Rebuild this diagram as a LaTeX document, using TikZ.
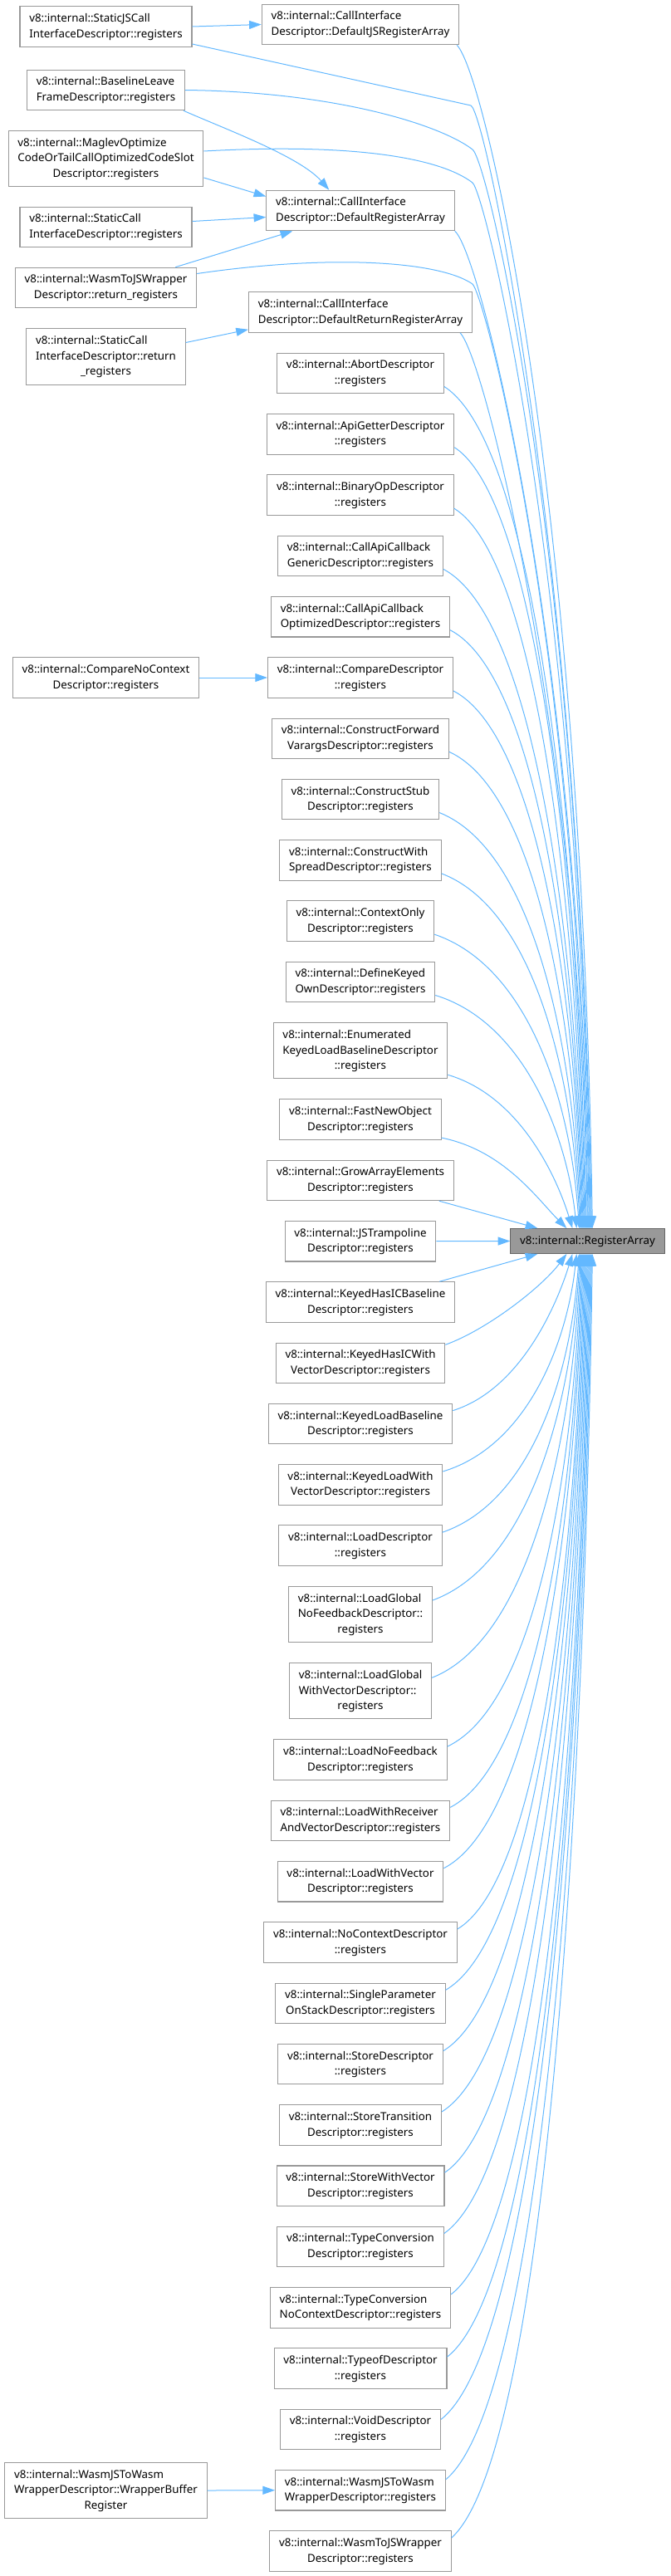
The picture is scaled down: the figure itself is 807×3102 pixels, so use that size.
\documentclass[tikz,border=0pt]{standalone}
\usepackage{fontspec}
\setmainfont{Noto Sans}
\usetikzlibrary{arrows.meta,calc}
\definecolor{EdgeBlue} {HTML}{63B8FF}
\definecolor{BoxGray}  {HTML}{999999}
\definecolor{RootGray} {HTML}{999999}
\definecolor{RootEdge} {HTML}{666666}
\newcommand{\fnlabel}[2]{\begin{tabular}{@{}l@{}}#1\\\multicolumn{1}{@{}c@{}}{#2}\end{tabular}}
\tikzset{
  fn/.style={rectangle,draw=BoxGray,fill=white,line width=0.8pt,
             font=\fontsize{10}{14}\selectfont,inner xsep=8.5pt,inner ysep=4.2pt},
  rootfn/.style={fn,fill=RootGray,draw=RootEdge,text height=9.8pt,text depth=4.2pt},
  arr/.style={-{Triangle[length=11pt,width=7.5pt]},line width=0.75pt,color=EdgeBlue},
}
\begin{document}
\begin{tikzpicture}[x=0.75pt,y=-0.75pt]
  \useasboundingbox (0,0) rectangle (807,3102);

  \node[rootfn] (RA) at (707.5,1494.5){v8::internal::RegisterArray};

  \node[fn] (SJC) at (127.5,32){\fnlabel{v8::internal::StaticJSCall}{InterfaceDescriptor::registers}};
  \node[fn] (DJS) at (434,29.5){\fnlabel{v8::internal::CallInterface}{Descriptor::DefaultJSRegisterArray}};
  \node[fn] (BLF) at (127.5,108.5){\fnlabel{v8::internal::BaselineLeave}{FrameDescriptor::registers}};
  \node[fn] (MOC) at (127.5,191){\fnlabel{v8::internal::MaglevOptimize\\CodeOrTailCallOptimizedCodeSlot}{Descriptor::registers}};
  \node[fn] (DRA) at (434,253.5){\fnlabel{v8::internal::CallInterface}{Descriptor::DefaultRegisterArray}};
  \node[fn] (SCI) at (127.5,273.5){\fnlabel{v8::internal::StaticCall}{InterfaceDescriptor::registers}};
  \node[fn] (WJR) at (127.5,346.5){\fnlabel{v8::internal::WasmToJSWrapper}{Descriptor::return\_registers}};
  \node[fn] (DRR) at (434,376){\fnlabel{v8::internal::CallInterface}{Descriptor::DefaultReturnRegisterArray}};
  \node[fn] (SCR) at (127.5,429.5){\fnlabel{v8::internal::StaticCall\\InterfaceDescriptor::return}{\_registers}};
  \node[fn] (CNC) at (127.5,816){\fnlabel{v8::internal::CompareNoContext}{Descriptor::registers}};
  \node[fn] (WBR) at (127.5,2999){\fnlabel{v8::internal::WasmJSToWasm\\WrapperDescriptor::WrapperBuffer}{Register}};

  \node[fn] (ABT) at (434,449.5){\fnlabel{v8::internal::AbortDescriptor}{::registers}};
  \node[fn] (AGD) at (434,522.8){\fnlabel{v8::internal::ApiGetterDescriptor}{::registers}};
  \node[fn] (BOD) at (434,596.1){\fnlabel{v8::internal::BinaryOpDescriptor}{::registers}};
  \node[fn] (CAG) at (434,669.4){\fnlabel{v8::internal::CallApiCallback}{GenericDescriptor::registers}};
  \node[fn] (CAO) at (434,742.7){\fnlabel{v8::internal::CallApiCallback}{OptimizedDescriptor::registers}};
  \node[fn] (CMP) at (434,816.0){\fnlabel{v8::internal::CompareDescriptor}{::registers}};
  \node[fn] (CFV) at (434,889.3){\fnlabel{v8::internal::ConstructForward}{VarargsDescriptor::registers}};
  \node[fn] (CSD) at (434,962.6){\fnlabel{v8::internal::ConstructStub}{Descriptor::registers}};
  \node[fn] (CWS) at (434,1035.9){\fnlabel{v8::internal::ConstructWith}{SpreadDescriptor::registers}};
  \node[fn] (COD) at (434,1109.2){\fnlabel{v8::internal::ContextOnly}{Descriptor::registers}};
  \node[fn] (DKO) at (434,1182.5){\fnlabel{v8::internal::DefineKeyed}{OwnDescriptor::registers}};
  \node[fn] (EKL) at (434,1265.3){\fnlabel{v8::internal::Enumerated\\KeyedLoadBaselineDescriptor}{::registers}};
  \node[fn] (FNO) at (434,1348.1){\fnlabel{v8::internal::FastNewObject}{Descriptor::registers}};
  \node[fn] (GAE) at (434,1421.4){\fnlabel{v8::internal::GrowArrayElements}{Descriptor::registers}};
  \node[fn] (JST) at (434,1494.7){\fnlabel{v8::internal::JSTrampoline}{Descriptor::registers}};
  \node[fn] (KHB) at (434,1568.0){\fnlabel{v8::internal::KeyedHasICBaseline}{Descriptor::registers}};
  \node[fn] (KHW) at (434,1641.3){\fnlabel{v8::internal::KeyedHasICWith}{VectorDescriptor::registers}};
  \node[fn] (KLB) at (434,1714.6){\fnlabel{v8::internal::KeyedLoadBaseline}{Descriptor::registers}};
  \node[fn] (KLW) at (434,1787.9){\fnlabel{v8::internal::KeyedLoadWith}{VectorDescriptor::registers}};
  \node[fn] (LDS) at (434,1861.2){\fnlabel{v8::internal::LoadDescriptor}{::registers}};
  \node[fn] (LGN) at (434,1944.0){\fnlabel{v8::internal::LoadGlobal\\NoFeedbackDescriptor::}{registers}};
  \node[fn] (LGW) at (434,2036.3){\fnlabel{v8::internal::LoadGlobal\\WithVectorDescriptor::}{registers}};
  \node[fn] (LNF) at (434,2119.1){\fnlabel{v8::internal::LoadNoFeedback}{Descriptor::registers}};
  \node[fn] (LWR) at (434,2192.4){\fnlabel{v8::internal::LoadWithReceiver}{AndVectorDescriptor::registers}};
  \node[fn] (LWV) at (434,2265.7){\fnlabel{v8::internal::LoadWithVector}{Descriptor::registers}};
  \node[fn] (NCD) at (434,2339.0){\fnlabel{v8::internal::NoContextDescriptor}{::registers}};
  \node[fn] (SPS) at (434,2412.3){\fnlabel{v8::internal::SingleParameter}{OnStackDescriptor::registers}};
  \node[fn] (STD) at (434,2485.6){\fnlabel{v8::internal::StoreDescriptor}{::registers}};
  \node[fn] (STT) at (434,2558.9){\fnlabel{v8::internal::StoreTransition}{Descriptor::registers}};
  \node[fn] (SWV) at (434,2632.2){\fnlabel{v8::internal::StoreWithVector}{Descriptor::registers}};
  \node[fn] (TCD) at (434,2705.5){\fnlabel{v8::internal::TypeConversion}{Descriptor::registers}};
  \node[fn] (TCN) at (434,2778.8){\fnlabel{v8::internal::TypeConversion}{NoContextDescriptor::registers}};
  \node[fn] (TOD) at (434,2852.1){\fnlabel{v8::internal::TypeofDescriptor}{::registers}};
  \node[fn] (VOD) at (434,2925.4){\fnlabel{v8::internal::VoidDescriptor}{::registers}};
  \node[fn] (WJW) at (434,2998.7){\fnlabel{v8::internal::WasmJSToWasm}{WrapperDescriptor::registers}};
  \node[fn] (WTJ) at (434,3072.0){\fnlabel{v8::internal::WasmToJSWrapper}{Descriptor::registers}};

  \draw[arr] (SJC.east) -- (DJS.west);
  \draw[arr] (SJC.east) ++(0,21) -- (567,127) .. controls +(18,8) and +(-13,-800) .. ($(RA.north west)+(98,0)$);
  \draw[arr] ($(DJS.south east)+(-3,0)$) .. controls +(35,36) and +(-13,-880) .. ($(RA.north west)+(99,0)$);
  \draw[arr] (BLF.east) .. controls +(180,2) and +(-39,-30) .. (569,180) .. controls +(20,16) and +(-12,-800) .. ($(RA.north west)+(97,0)$);
  \draw[arr] ($(BLF.south east)+(-2,0)$) .. controls +(50,22) and +(-35,-40) .. ($(DRA.north west)+(76,0)$);
  \draw[arr] (MOC.east) ++(0,-9) .. controls +(180,-10) and +(-39,-30) .. (569,220) .. controls +(16,14) and +(-12,-780) .. ($(RA.north west)+(96,0)$);
  \draw[arr] ($(MOC.east)+(0,23)$) -- ($(DRA.west)+(0,-17)$);
  \draw[arr] ($(SCI.east)+(0,-7)$) -- ($(DRA.west)+(0,8)$);
  \draw[arr] ($(WJR.north east)+(-26,0)$) -- ($(DRA.south west)+(32,0)$);
  \draw[arr] (WJR.east) ++(0,-17) .. controls +(165,-24) and +(-39,-27) .. (569,342) .. controls +(15,14) and +(-12,-700) .. ($(RA.north west)+(94,0)$);
  \draw[arr] (DRA.south east) .. controls +(32,27) and +(-9,-680) .. ($(RA.north west)+(95,0)$);
  \draw[arr] ($(SCR.east)+(0,-17)$) -- ($(DRR.south west)+(0,-4)$);
  \draw[arr] ($(DRR.south east)+(-15,0)$) .. controls +(30,30) and +(-7,-580) .. ($(RA.north west)+(93,0)$);
  \draw[arr] (CNC.east) -- (CMP.west);
  \draw[arr] (WBR.east) -- (WJW.west);

  \draw[arr] (ABT.east) ++(0,16) .. controls +(110,70) and +(-10,-450) .. ($(RA.north west)+(92,0)$);
  \draw[arr] (AGD.east) ++(0,16) .. controls +(100,65) and +(-10,-420) .. ($(RA.north west)+(91,0)$);
  \draw[arr] (BOD.east) ++(0,16) .. controls +(100,62) and +(-10,-390) .. ($(RA.north west)+(90,0)$);
  \draw[arr] (CAG.east) ++(0,16) .. controls +(110,58) and +(-10,-355) .. ($(RA.north west)+(89,0)$);
  \draw[arr] (CAO.east) ++(0,16) .. controls +(105,55) and +(-10,-320) .. ($(RA.north west)+(88,0)$);
  \draw[arr] (CMP.east) ++(0,16) .. controls +(100,52) and +(-9,-290) .. ($(RA.north west)+(87,0)$);
  \draw[arr] (CFV.east) ++(0,16) .. controls +(104,48) and +(-9,-258) .. ($(RA.north west)+(86,0)$);
  \draw[arr] (CSD.east) ++(0,16) .. controls +(112,45) and +(-9,-225) .. ($(RA.north west)+(85,0)$);
  \draw[arr] (CWS.east) ++(0,16) .. controls +(110,42) and +(-9,-190) .. ($(RA.north west)+(84,0)$);
  \draw[arr] (COD.east) ++(0,16) .. controls +(112,38) and +(-10,-155) .. ($(RA.north west)+(83,0)$);
  \draw[arr] (DKO.east) ++(0,16) .. controls +(105,32) and +(-12,-115) .. ($(RA.north west)+(80,0)$);
  \draw[arr] (EKL.east) ++(0,29) .. controls +(85,25) and +(-20,-65) .. ($(RA.north west)+(75,0)$);
  \draw[arr] (FNO.east) ++(0,22) .. controls +(75,15) and +(-35,-35) .. ($(RA.north west)+(68,0)$);
  \draw[arr] ($(GAE.south east)+(-18,0)$) -- ($(RA.north west)+(33,0)$);
  \draw[arr] (JST.east) -- (RA.west);
  \draw[arr] ($(KHB.north east)+(-19,0)$) -- ($(RA.south west)+(33,0)$);
  \draw[arr] (KHW.east) ++(0,-22) .. controls +(50,-18) and +(-30,40) .. ($(RA.south west)+(68,0)$);
  \draw[arr] (KLB.east) ++(0,-16) .. controls +(80,-25) and +(-20,65) .. ($(RA.south west)+(75,0)$);
  \draw[arr] (KLW.east) ++(0,-16) .. controls +(100,-30) and +(-12,110) .. ($(RA.south west)+(80,0)$);
  \draw[arr] (LDS.east) ++(0,-16) .. controls +(105,-36) and +(-10,150) .. ($(RA.south west)+(83,0)$);
  \draw[arr] (LGN.east) ++(0,-17) .. controls +(115,-42) and +(-10,185) .. ($(RA.south west)+(84,0)$);
  \draw[arr] (LGW.east) ++(0,-16) .. controls +(117,-46) and +(-10,228) .. ($(RA.south west)+(85,0)$);
  \draw[arr] (LNF.east) ++(0,-16) .. controls +(106,-50) and +(-10,265) .. ($(RA.south west)+(86,0)$);
  \draw[arr] (LWR.east) ++(0,-16) .. controls +(104,-54) and +(-10,300) .. ($(RA.south west)+(87,0)$);
  \draw[arr] (LWV.east) ++(0,-16) .. controls +(110,-57) and +(-10,330) .. ($(RA.south west)+(88,0)$);
  \draw[arr] (NCD.east) ++(0,-16) .. controls +(100,-60) and +(-10,365) .. ($(RA.south west)+(89,0)$);
  \draw[arr] (SPS.east) ++(0,-16) .. controls +(110,-64) and +(-10,400) .. ($(RA.south west)+(90,0)$);
  \draw[arr] (STD.east) ++(0,-16) .. controls +(112,-68) and +(-10,430) .. ($(RA.south west)+(91,0)$);
  \draw[arr] (STT.east) ++(0,-16) .. controls +(115,-72) and +(-10,465) .. ($(RA.south west)+(92,0)$);
  \draw[arr] (SWV.east) ++(0,-16) .. controls +(112,-76) and +(-10,497) .. ($(RA.south west)+(93,0)$);
  \draw[arr] (TCD.east) ++(0,-16) .. controls +(114,-80) and +(-10,530) .. ($(RA.south west)+(94,0)$);
  \draw[arr] (TCN.east) ++(0,-16) .. controls +(110,-84) and +(-10,563) .. ($(RA.south west)+(95,0)$);
  \draw[arr] (TOD.east) ++(0,-14) .. controls +(113,-88) and +(-10,596) .. ($(RA.south west)+(96,0)$);
  \draw[arr] (VOD.east) ++(0,-12) .. controls +(117,-92) and +(-10,630) .. ($(RA.south west)+(97,0)$);
  \draw[arr] (WJW.east) ++(0,-13) .. controls +(114,-96) and +(-10,662) .. ($(RA.south west)+(98,0)$);
  \draw[arr] (WTJ.east) ++(0,-16) .. controls +(110,-100) and +(-10,695) .. ($(RA.south west)+(99,0)$);

\end{tikzpicture}
\end{document}
